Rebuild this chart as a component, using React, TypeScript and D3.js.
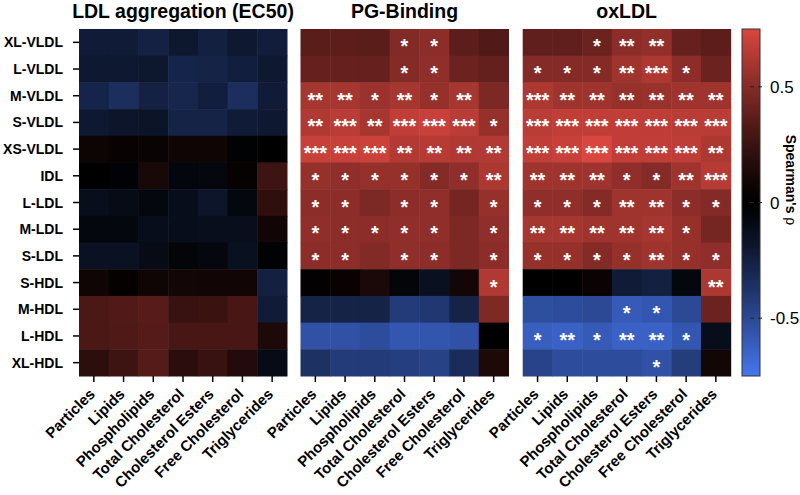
import React from "react";
import * as d3 from "d3";

const rows = ["XL-VLDL","L-VLDL","M-VLDL","S-VLDL","XS-VLDL","IDL","L-LDL","M-LDL","S-LDL","S-HDL","M-HDL","L-HDL","XL-HDL"];
const cols = ["Particles","Lipids","Phospholipids","Total Cholesterol","Cholesterol Esters","Free Cholesterol","Triglycerides"];
const titles = ["LDL aggregation (EC50)","PG-Binding","oxLDL"];
const colorTicks = [0.5, 0, -0.5];

const ldlAgg = [
  [-0.22,-0.22,-0.26,-0.19,-0.25,-0.2,-0.23],
  [-0.2,-0.2,-0.19,-0.28,-0.27,-0.24,-0.2],
  [-0.28,-0.34,-0.26,-0.29,-0.24,-0.34,-0.22],
  [-0.2,-0.18,-0.17,-0.27,-0.27,-0.22,-0.2],
  [0.07,0.05,0.06,0.08,0.08,-0.02,0.0],
  [0.0,-0.03,0.12,-0.06,-0.07,0.04,0.26],
  [-0.13,-0.1,-0.07,-0.12,-0.18,-0.07,0.21],
  [-0.07,-0.07,-0.12,-0.12,-0.13,-0.13,0.09],
  [-0.15,-0.15,-0.1,-0.05,-0.07,-0.14,-0.02],
  [0.08,0.03,0.08,0.1,0.09,0.09,-0.25],
  [0.31,0.33,0.35,0.24,0.25,0.3,-0.22],
  [0.31,0.32,0.34,0.3,0.3,0.3,0.14],
  [0.2,0.26,0.34,0.19,0.24,0.16,-0.1],
];
const pgBinding = [
  [0.36,0.37,0.36,0.49,0.52,0.37,0.33],
  [0.4,0.4,0.4,0.5,0.53,0.42,0.39],
  [0.6,0.6,0.57,0.6,0.55,0.6,0.47],
  [0.63,0.66,0.6,0.68,0.7,0.66,0.55],
  [0.7,0.7,0.71,0.64,0.65,0.63,0.64],
  [0.55,0.53,0.55,0.55,0.5,0.53,0.62],
  [0.52,0.52,0.47,0.52,0.53,0.45,0.55],
  [0.53,0.52,0.52,0.53,0.53,0.47,0.53],
  [0.52,0.52,0.49,0.53,0.52,0.47,0.52],
  [0.02,0.05,0.13,-0.05,-0.14,0.1,0.63],
  [-0.27,-0.27,-0.27,-0.42,-0.4,-0.27,0.48],
  [-0.55,-0.55,-0.52,-0.58,-0.57,-0.55,0.0],
  [-0.36,-0.42,-0.42,-0.44,-0.46,-0.33,0.14],
];
const oxLDL = [
  [0.38,0.38,0.42,0.52,0.54,0.4,0.37],
  [0.5,0.5,0.5,0.58,0.62,0.52,0.42],
  [0.62,0.58,0.58,0.55,0.56,0.58,0.58],
  [0.66,0.68,0.68,0.68,0.67,0.66,0.66],
  [0.68,0.7,0.75,0.68,0.68,0.67,0.62],
  [0.58,0.58,0.58,0.53,0.5,0.58,0.65],
  [0.53,0.53,0.5,0.58,0.58,0.52,0.5],
  [0.6,0.6,0.58,0.58,0.6,0.55,0.45],
  [0.55,0.55,0.5,0.55,0.58,0.55,0.53],
  [0.0,0.0,0.06,-0.22,-0.25,-0.07,0.62],
  [-0.53,-0.52,-0.5,-0.6,-0.58,-0.5,0.42],
  [-0.62,-0.64,-0.6,-0.64,-0.64,-0.58,-0.12],
  [-0.47,-0.52,-0.52,-0.52,-0.55,-0.43,0.1],
];

const ldlAggSig = rows.map(() => cols.map(() => ""));
const pgBindingSig = [
  ["","","","*","*","",""],
  ["","","","*","*","",""],
  ["**","**","*","**","*","**",""],
  ["**","***","**","***","***","***","*"],
  ["***","***","***","**","**","**","**"],
  ["*","*","*","*","*","*","**"],
  ["*","*","","*","*","","*"],
  ["*","*","*","*","*","","*"],
  ["*","*","","*","*","","*"],
  ["","","","","","","*"],
  ["","","","","","",""],
  ["","","","","","",""],
  ["","","","","","",""],
];
const oxLDLSig = [
  ["","","*","**","**","",""],
  ["*","*","*","**","***","*",""],
  ["***","**","**","**","**","**","**"],
  ["***","***","***","***","***","***","***"],
  ["***","***","***","***","***","***","**"],
  ["**","**","**","*","*","**","***"],
  ["*","*","*","**","**","*","*"],
  ["**","**","**","**","**","*",""],
  ["*","*","*","*","**","*","*"],
  ["","","","","","","**"],
  ["","","","*","*","",""],
  ["*","**","*","**","**","*",""],
  ["","","","","*","",""],
];

const panelValues = [ldlAgg, pgBinding, oxLDL];
const panelSigs = [ldlAggSig, pgBindingSig, oxLDLSig];

const FONT = "'Liberation Sans', Arial, Helvetica, sans-serif";

export default function App() {
  const W = 800, H = 495;
  const top = 29, bottom = 376;
  const panelLefts = [79, 300.5, 522.7];
  const panelW = 208;
  const vmax = 0.75;
  const redScale = d3.interpolateRgb("#000000", "#D9463F");
  const blueScale = d3.interpolateRgb("#000000", "#4676F0");
  const mag = d3.scalePow().exponent(1.2).domain([0, vmax]).range([0, 1]).clamp(true);
  const color = (v: number) => (v >= 0 ? redScale(mag(v)) : blueScale(mag(-v)));
  const y = d3.scaleBand<string>().domain(rows).range([top, bottom]);

  const cbX = 742, cbW = 18;
  const cbScale = d3.scaleLinear().domain([vmax, -vmax]).range([top, bottom]);
  const stops = d3.range(0, 1.0001, 0.025);

  return (
    <svg width={W} height={H} style={{ position: "absolute", left: 0, top: 0, background: "#fff" }} fontFamily={FONT}>
      <defs>
        <linearGradient id="cb" x1="0" y1="0" x2="0" y2="1">
          {stops.map((t, i) => (
            <stop key={i} offset={t} stopColor={color(cbScale.invert(top + t * (bottom - top)))} />
          ))}
        </linearGradient>
      </defs>
      {panelValues.map((vals, p) => {
        const x = d3.scaleBand<string>().domain(cols).range([panelLefts[p], panelLefts[p] + panelW]);
        const sig = panelSigs[p];
        const cx0 = panelLefts[p] + panelW / 2;
        return (
          <g key={p}>
            <text x={cx0} y={18} textAnchor="middle" fontSize={19.5} fontWeight="bold">{titles[p]}</text>
            {rows.map((r, i) => cols.map((c, j) => (
              <rect key={r + c} x={x(c)!} y={y(r)!} width={x.bandwidth() + 0.5} height={y.bandwidth() + 0.5} fill={color(vals[i][j])} />
            )))}
            {rows.map((r, i) => cols.map((c, j) => sig[i][j] ? (
              <text key={"s" + r + c} x={x(c)! + x.bandwidth() / 2} y={y(r)! + y.bandwidth() / 2 + 11}
                textAnchor="middle" fill="#fff" fontSize={20} fontWeight="bold">{sig[i][j]}</text>
            ) : null))}
            {cols.map((c) => {
              const cx = x(c)! + x.bandwidth() / 2;
              return (
                <g key={"xt" + c}>
                  <line x1={cx} x2={cx} y1={bottom} y2={bottom + 6} stroke="#000" strokeWidth={1.5} />
                  <text transform={`translate(${cx + 2},${bottom + 19}) rotate(-45)`} textAnchor="end"
                    fontSize={15} fontWeight="bold">{c}</text>
                </g>
              );
            })}
            {p === 0 && rows.map((r) => {
              const cy = y(r)! + y.bandwidth() / 2;
              return (
                <g key={"yt" + r}>
                  <line x1={panelLefts[0] - 6} x2={panelLefts[0]} y1={cy} y2={cy} stroke="#000" strokeWidth={1.5} />
                  <text x={63} y={cy + 5} textAnchor="end" fontSize={14} fontWeight="bold">{r}</text>
                </g>
              );
            })}
          </g>
        );
      })}
      <rect x={cbX} y={top} width={cbW} height={bottom - top} fill="url(#cb)" stroke="#333" strokeWidth={1} />
      {colorTicks.map((t) => (
        <g key={"ct" + t}>
          <line x1={cbX + 8} x2={cbX + 24} y1={cbScale(t)} y2={cbScale(t)} stroke="#222" strokeWidth={1} strokeDasharray="4,4" />
          <text x={770} y={cbScale(t) + 6} fontSize={17}>{t}</text>
        </g>
      ))}
      <text transform={`translate(786,180) rotate(90)`} textAnchor="middle" fontSize={14}>
        <tspan fontWeight="bold">Spearman's </tspan><tspan>ρ</tspan>
      </text>
    </svg>
  );
}
